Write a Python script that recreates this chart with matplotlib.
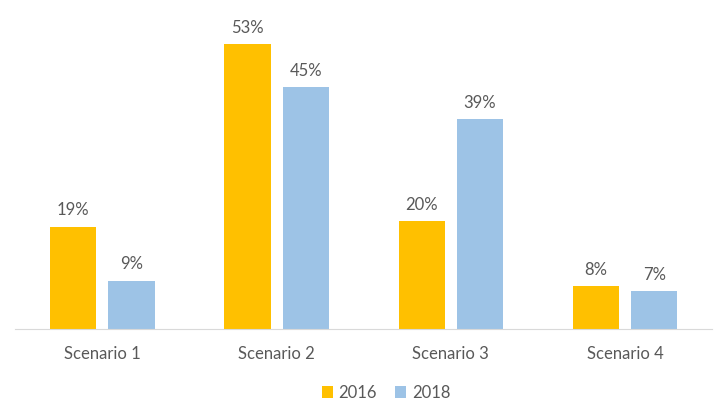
import numpy as np
import matplotlib.pyplot as plt

plt.rcParams['font.family'] = ['Lato', 'DejaVu Sans']

categories = ['Scenario 1', 'Scenario 2', 'Scenario 3', 'Scenario 4']
values_2016 = [19, 53, 20, 8]
values_2018 = [9, 45, 39, 7]
series_labels = ['2016', '2018']

color_2016 = '#FFC000'
color_2018 = '#9DC3E6'
text_color = '#595959'

fig = plt.figure(figsize=(7.26, 4.08), dpi=100)
ax = fig.add_axes([0.021, 0.194, 0.96, 0.79])

x = np.arange(len(categories))
width = 0.265
offset = 0.1675

bars1 = ax.bar(x - offset, values_2016, width, color=color_2016, label=series_labels[0])
bars2 = ax.bar(x + offset, values_2018, width, color=color_2018, label=series_labels[1])

for bars in (bars1, bars2):
    for b in bars:
        ax.annotate(f'{b.get_height():.0f}%', (b.get_x() + b.get_width() / 2, b.get_height()),
                    xytext=(0, 6), textcoords='offset points', ha='center', va='bottom',
                    fontsize=12, color=text_color)

ax.set_xlim(-0.5, 3.5)
ax.set_ylim(0, 60)
ax.set_xticks(x)
ax.set_xticklabels(categories, fontsize=12, color=text_color)
ax.tick_params(axis='x', length=0, pad=12)
ax.set_yticks([])
for s in ['top', 'right', 'left']:
    ax.spines[s].set_visible(False)
ax.spines['bottom'].set_color('#D9D9D9')

fig.legend(handles=[bars1, bars2], labels=series_labels, loc='center', bbox_to_anchor=(0.532, 0.037),
           ncol=2, frameon=False, fontsize=12, labelcolor=text_color,
           handlelength=0.65, handleheight=0.65, handletextpad=0.35, columnspacing=1.1)

fig.savefig('out.png', dpi=100)
